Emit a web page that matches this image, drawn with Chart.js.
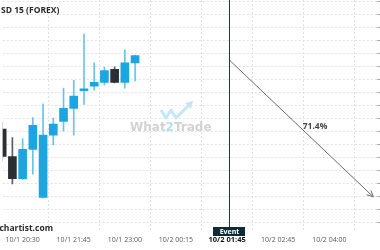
<!DOCTYPE html>
<html>
<head>
    <meta charset="utf-8">
    <script src="https://cdn.jsdelivr.net/npm/chart.js@4.4.1/dist/chart.umd.min.js"></script>
    <style>
        body { margin: 0; background: #fff; }
        #wrap { width: 380px; height: 250px; position: relative; }
    </style>
</head>
<body>
<div id="wrap">
    <canvas id="myChart"></canvas>
</div>

<script>
    // 15 min candles, index 0 = 10/1 20:00
    var times = ["20:00", "20:15", "20:30", "20:45", "21:00", "21:15", "21:30",
                 "21:45", "22:00", "22:15", "22:30", "22:45", "23:00", "23:15"];
    var open  = [1.15544, 1.15502, 1.15468, 1.15513, 1.15439, 1.15535, 1.15556,
                 1.15576, 1.15603, 1.15610, 1.15616, 1.15636, 1.15616, 1.15646];
    var high  = [1.15555, 1.15531, 1.15529, 1.15562, 1.15583, 1.15561, 1.15607,
                 1.15619, 1.15690, 1.15646, 1.15639, 1.15640, 1.15666, 1.15658];
    var low   = [1.15495, 1.15460, 1.15467, 1.15475, 1.15438, 1.15520, 1.15541,
                 1.15535, 1.15582, 1.15604, 1.15612, 1.15615, 1.15607, 1.15618];
    var close = [1.15502, 1.15468, 1.15513, 1.15550, 1.15535, 1.15552, 1.15576,
                 1.15595, 1.15606, 1.15616, 1.15634, 1.15616, 1.15646, 1.15657];

    // x axis ticks (in candle slots) and their labels
    var xTickPos    = [2, 7, 12, 17, 22, 27, 32];
    var xTickLabels = ["10/1 20:30", "10/1 21:45", "10/1 23:00", "10/2 00:15",
                       "10/2 01:45", "10/2 02:45", "10/2 04:00"];
    var eventTickIndex = 4;

    var yGrid = [1.1540, 1.1542, 1.1544, 1.1546, 1.1548, 1.1550, 1.1552, 1.1554, 1.1556,
                 1.1558, 1.1560, 1.1562, 1.1564, 1.1566, 1.1568, 1.1570, 1.1572, 1.1574];

    // forecast pattern: event point and arrow target
    var eventX = 22.17;
    var arrowX = [22.17, 36.3];
    var arrowY = [1.15651, 1.15440];
    var arrowLabel = "71.4%";

    var UP = "#1ba6e2", DOWN = "#2b2e33";
    function isUp(k) { return close[k] >= open[k]; }

    var bodies = times.map(function (t, k) { return {x: k, y: [open[k], close[k]]}; });
    var wicks  = times.map(function (t, k) { return {x: k, y: [low[k], high[k]]}; });
    var arrowPts = arrowX.map(function (x, k) { return {x: x, y: arrowY[k]}; });

    var overlay = {
        id: "overlay",
        beforeDatasetsDraw: function (chart) {
            var ctx = chart.ctx;
            ctx.save();
            // watermark logo
            ctx.strokeStyle = "#c4e6f6";
            ctx.lineWidth = 3;
            ctx.lineJoin = "round";
            ctx.beginPath();
            ctx.moveTo(161, 110); ctx.lineTo(166, 118); ctx.lineTo(171, 110);
            ctx.lineTo(176, 118); ctx.lineTo(189, 105);
            ctx.stroke();
            ctx.fillStyle = "#c4e6f6";
            ctx.beginPath();
            ctx.moveTo(193, 101); ctx.lineTo(185, 103); ctx.lineTo(191, 109);
            ctx.closePath(); ctx.fill();
            ctx.font = "bold 12px 'DejaVu Sans'";
            ctx.textBaseline = "alphabetic";
            ctx.textAlign = "left";
            var x = 130;
            var parts = [["What", "#d2d2d2"], ["2", "#b5def2"], ["Trade", "#d2d2d2"]];
            parts.forEach(function (p) {
                ctx.fillStyle = p[1];
                ctx.fillText(p[0], x, 131);
                x += ctx.measureText(p[0]).width;
            });
            ctx.restore();
        },
        afterDraw: function (chart) {
            var ctx = chart.ctx;
            var xs = chart.scales.x, ys = chart.scales.y;
            ctx.save();
            // event line
            var ex = Math.round(xs.getPixelForValue(eventX)) + 0.5;
            ctx.strokeStyle = "#25363d";
            ctx.lineWidth = 1;
            ctx.beginPath();
            ctx.moveTo(ex, 0); ctx.lineTo(ex, 227);
            ctx.stroke();
            ctx.fillStyle = "#0d2c36";
            ctx.fillRect(ex - 16.5, 227, 32, 9);
            ctx.fillStyle = "#fff";
            ctx.font = "bold 7px 'Open Sans'";
            ctx.textAlign = "center";
            ctx.textBaseline = "middle";
            ctx.fillText("Event", ex, 231.8);

            // arrow head
            var x1 = xs.getPixelForValue(arrowX[0]), y1 = ys.getPixelForValue(arrowY[0]);
            var x2 = xs.getPixelForValue(arrowX[1]), y2 = ys.getPixelForValue(arrowY[1]);
            var a = Math.atan2(y2 - y1, x2 - x1);
            ctx.strokeStyle = "#6b6b6b";
            ctx.beginPath();
            ctx.moveTo(x2 - 7 * Math.cos(a - 0.45), y2 - 7 * Math.sin(a - 0.45));
            ctx.lineTo(x2, y2);
            ctx.lineTo(x2 - 7 * Math.cos(a + 0.45), y2 - 7 * Math.sin(a + 0.45));
            ctx.stroke();

            ctx.fillStyle = "#444";
            ctx.font = "bold 8.5px 'Open Sans'";
            ctx.fillText(arrowLabel, 315, 127);

            // title and source
            ctx.textAlign = "left";
            ctx.textBaseline = "alphabetic";
            ctx.fillStyle = "#2a2a2a";
            ctx.font = "bold 8.5px 'Open Sans'";
            ctx.fillText("SD 15 (FOREX)", 1, 13);
            ctx.textAlign = "right";
            ctx.fillText("autochartist.com", 53, 231);
            ctx.restore();
        }
    };

    var ctx = document.getElementById("myChart");
    var myChart = new Chart(ctx, {
        type: "bar",
        data: {
            datasets: [
                {
                    data: bodies,
                    order: 1,
                    grouped: false,
                    barThickness: 8,
                    backgroundColor: function (c) { return isUp(c.dataIndex) ? UP : DOWN; }
                },
                {
                    data: wicks,
                    order: 2,
                    grouped: false,
                    barThickness: 1,
                    backgroundColor: function (c) { return isUp(c.dataIndex) ? "#6cc2ea" : "#5a5d62"; }
                },
                {
                    type: "line",
                    data: arrowPts,
                    order: 0,
                    borderColor: "#6b6b6b",
                    borderWidth: 1,
                    pointRadius: 0
                }
            ]
        },
        options: {
            responsive: true,
            maintainAspectRatio: false,
            animation: false,
            layout: { padding: 0 },
            plugins: {
                legend: { display: false },
                tooltip: { enabled: false }
            },
            scales: {
                x: {
                    type: "linear",
                    offset: false,
                    min: 0.058,
                    max: 36.66,
                    afterBuildTicks: function (axis) {
                        axis.ticks = xTickPos.map(function (v) { return {value: v}; });
                    },
                    border: { display: false, dash: [2, 2] },
                    grid: { color: "#e2e2e2", drawTicks: false },
                    ticks: {
                        autoSkip: false,
                        maxRotation: 0,
                        padding: 5.5,
                        color: function (c) { return c.index === eventTickIndex ? "#111" : "#5a5a5a"; },
                        font: function (c) {
                            return c.index === eventTickIndex
                                ? {family: "'Liberation Sans Narrow', 'Open Sans'", size: 7.5, weight: "bold"}
                                : {family: "'Open Sans'", size: 7};
                        },
                        callback: function (v, i) { return xTickLabels[i]; }
                    }
                },
                y: {
                    position: "right",
                    min: 1.153891,
                    max: 1.157425,
                    afterBuildTicks: function (axis) {
                        axis.ticks = yGrid.map(function (v) { return {value: v}; });
                    },
                    border: { display: false, dash: [2, 2] },
                    grid: { color: "#e2e2e2", drawTicks: true, tickLength: 3, tickColor: "#aaa" },
                    ticks: { display: false }
                }
            }
        },
        plugins: [overlay]
    });
</script>
</body>
</html>
